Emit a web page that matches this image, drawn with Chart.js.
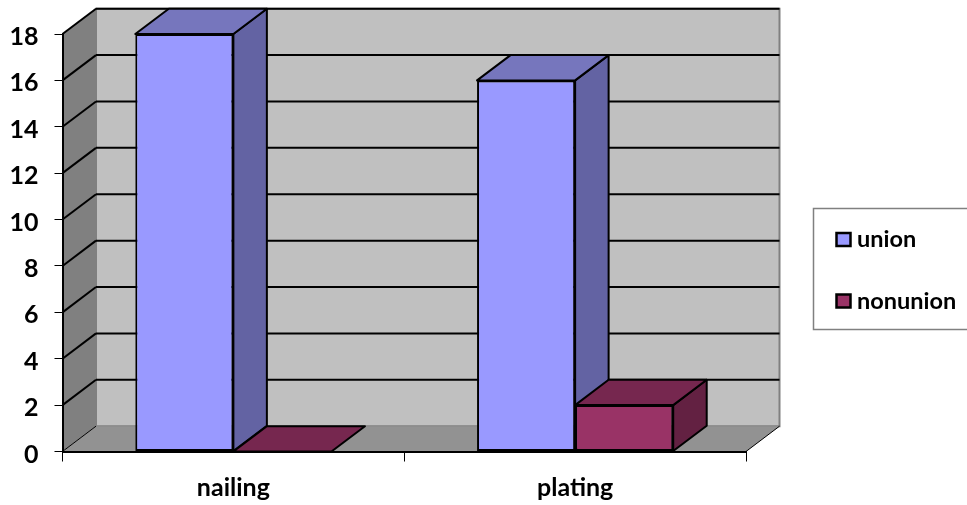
<!DOCTYPE html>
<html>
<head>
<meta charset="utf-8">
<title>union / nonunion</title>
<script src="https://cdn.jsdelivr.net/npm/chart.js@4"></script>
<style>
  html, body { margin: 0; padding: 0; background: #fff; }
  canvas { display: block; }
</style>
</head>
<body>
<canvas id="chart" width="967" height="505"></canvas>
<script>
const categories = ['nailing', 'plating'];
const unionValues = [18, 16];
const nonunionValues = [0, 2];

const labelFont = { family: 'Lato', size: 25, weight: 'bold' };

// Oblique depth of the box, in pixels
const depthX = 33.5;
const depthY = 25.3;

// Face colours for each series: front, top, side
const unionFaces = { front: '#9999ff', top: '#7676bd', side: '#6363a3' };
const nonunionFaces = { front: '#993366', top: '#76274f', side: '#632142' };

function fillPoly(ctx, points, fill, stroke, lineWidth) {
  ctx.beginPath();
  points.forEach((p, i) => (i ? ctx.lineTo(p[0], p[1]) : ctx.moveTo(p[0], p[1])));
  ctx.closePath();
  if (fill) {
    ctx.fillStyle = fill;
    ctx.fill();
  }
  if (stroke) {
    ctx.strokeStyle = stroke;
    ctx.lineWidth = lineWidth;
    ctx.stroke();
  }
}

function drawLine(ctx, x1, y1, x2, y2, color, lineWidth) {
  ctx.beginPath();
  ctx.moveTo(x1, y1);
  ctx.lineTo(x2, y2);
  ctx.strokeStyle = color;
  ctx.lineWidth = lineWidth;
  ctx.stroke();
}

// Back wall, side wall, floor and gridlines
const wallsPlugin = {
  id: 'walls',
  beforeDraw(chart) {
    const { ctx, chartArea: { left, right, top, bottom }, scales: { y } } = chart;
    ctx.save();
    fillPoly(ctx, [[left + depthX, top - depthY], [right + depthX, top - depthY],
      [right + depthX, bottom - depthY], [left + depthX, bottom - depthY]], '#c0c0c0', '#808080', 2);
    fillPoly(ctx, [[left, top], [left + depthX, top - depthY],
      [left + depthX, bottom - depthY], [left, bottom]], '#808080');
    fillPoly(ctx, [[left, bottom], [right, bottom],
      [right + depthX, bottom - depthY], [left + depthX, bottom - depthY]], '#929292');
    drawLine(ctx, left, bottom, left + depthX, bottom - depthY, '#000', 1);
    drawLine(ctx, right, bottom, right + depthX, bottom - depthY, '#000', 1);
    y.ticks.forEach(t => {
      if (t.value === 0) return;
      const py = y.getPixelForValue(t.value);
      drawLine(ctx, left, py, left + depthX, py - depthY, '#000', 2);
      drawLine(ctx, left + depthX, py - depthY, right + depthX, py - depthY, '#000', 2);
    });
    ctx.restore();
  }
};

// Top and side faces of every bar, series by series, behind the front faces
const barDepthPlugin = {
  id: 'barDepth',
  beforeDatasetsDraw(chart) {
    const { ctx } = chart;
    ctx.save();
    ctx.lineJoin = 'round';
    chart.data.datasets.forEach((ds, i) => {
      chart.getDatasetMeta(i).data.forEach(bar => {
        const { x, y, base, width } = bar.getProps(['x', 'y', 'base', 'width'], true);
        const l = x - width / 2;
        const r = x + width / 2;
        if (base - y > 0.5) {
          fillPoly(ctx, [[r, y], [r + depthX, y - depthY], [r + depthX, base - depthY], [r, base]],
            ds.faces.side, '#000', 2);
        }
        fillPoly(ctx, [[l, y], [l + depthX, y - depthY], [r + depthX, y - depthY], [r, y]],
          ds.faces.top, '#000', 2);
      });
    });
    ctx.restore();
  }
};

// Boxed key on the right, running off the canvas edge
const keyPlugin = {
  id: 'key',
  afterDraw(chart) {
    const { ctx } = chart;
    ctx.save();
    ctx.strokeStyle = '#808080';
    ctx.lineWidth = 1.5;
    ctx.strokeRect(813.5, 208.5, 170, 121);
    ctx.font = 'bold 23.5px Lato';
    ctx.textBaseline = 'middle';
    chart.data.datasets.forEach((ds, i) => {
      const cy = 239.5 + i * 61.5;
      ctx.fillStyle = ds.faces.front;
      ctx.strokeStyle = '#000';
      ctx.lineWidth = 2.5;
      ctx.fillRect(836.5, cy - 6.5, 14, 13);
      ctx.strokeRect(836.5, cy - 6.5, 14, 13);
      ctx.fillStyle = '#000';
      ctx.fillText(ds.label, 857, cy);
    });
    ctx.restore();
  }
};

new Chart(document.getElementById('chart'), {
  type: 'bar',
  data: {
    labels: categories,
    datasets: [
      {
        label: 'union',
        data: unionValues,
        faces: unionFaces,
        backgroundColor: unionFaces.front,
        borderColor: '#000',
        borderWidth: 2,
        borderSkipped: false,
        categoryPercentage: 0.574,
        barPercentage: 1
      },
      {
        label: 'nonunion',
        data: nonunionValues,
        faces: nonunionFaces,
        backgroundColor: nonunionFaces.front,
        borderColor: '#000',
        borderWidth: 2,
        borderSkipped: false,
        categoryPercentage: 0.574,
        barPercentage: 1
      }
    ]
  },
  options: {
    responsive: false,
    animation: false,
    layout: { padding: { top: 34, right: 221, bottom: 0, left: 0 } },
    plugins: {
      legend: { display: false },
      tooltip: { enabled: false }
    },
    scales: {
      x: {
        afterFit(scale) { scale.height = 53.5; },
        grid: { drawOnChartArea: false, color: '#000', tickLength: 10, lineWidth: 1 },
        border: { color: '#000', width: 2 },
        ticks: { color: '#000', font: labelFont, padding: 11 }
      },
      y: {
        min: 0,
        max: 18,
        afterFit(scale) { scale.width = 62.5; },
        grid: { drawOnChartArea: false, color: '#000', tickLength: 8, lineWidth: 1 },
        border: { color: '#000', width: 2 },
        ticks: { stepSize: 2, color: '#000', font: labelFont, padding: 16, labelOffset: 3 }
      }
    }
  },
  plugins: [wallsPlugin, barDepthPlugin, keyPlugin]
});
</script>
</body>
</html>
